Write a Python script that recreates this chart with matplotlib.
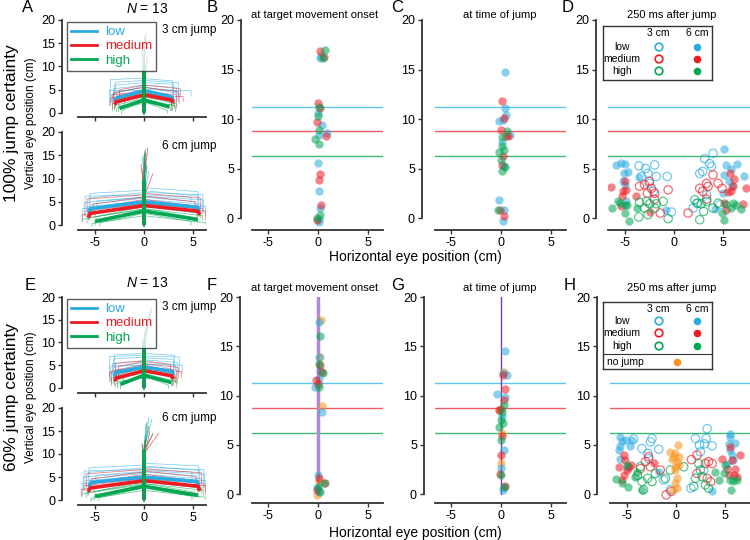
import matplotlib
matplotlib.use('Agg')
import matplotlib.pyplot as plt
from matplotlib.lines import Line2D

plt.rcParams['font.family'] = ['Liberation Sans', 'DejaVu Sans']
plt.rcParams['axes.unicode_minus'] = False
plt.rcParams['mathtext.fontset'] = 'custom'
plt.rcParams['mathtext.it'] = 'Liberation Sans:italic'
plt.rcParams['mathtext.rm'] = 'Liberation Sans'

NARROW = ['Liberation Sans Narrow', 'Liberation Sans', 'DejaVu Sans']
W, H = 750, 540
BLUE, RED, GREEN, ORANGE = '#29abe2', '#ed1c24', '#00a651', '#f7941d'
col = {'low': BLUE, 'medium': RED, 'high': GREEN}
line_col = {'low': '#5cc6ee', 'medium': '#ee5a5f', 'high': '#3dba6f'}
SPINE = '#333333'
levels = ['low', 'medium', 'high']
target_y = {'low': 11.25, 'medium': 8.75, 'high': 6.25}

# ---- trajectories: thin traces (x_end, y_at_0, y_at_end, y_after_drop) ----
a3_thin = {
    'low': [(-3.0, 6.5, 6.0, 3.0), (-3.4, 7.5, 7.2, 2.5), (-2.8, 5.5, 4.5, 2.0), (-3.6, 5.0, 5.0, 1.8),
            (-2.6, 4.5, 3.6, 1.5), (-3.1, 6.0, 5.2, 2.8), (-3.3, 5.8, 4.0, 2.2), (-2.9, 7.0, 6.6, 4.0),
            (3.0, 6.5, 6.2, 3.0), (3.5, 7.0, 6.5, 3.5), (3.2, 5.5, 4.8, 4.5), (4.8, 5.0, 4.8, 3.6),
            (2.8, 4.5, 3.5, 1.5), (3.3, 6.0, 5.5, 2.5), (3.6, 5.6, 4.2, 2.0), (2.9, 7.4, 6.9, 4.2)],
    'medium': [(-3.2, 4.5, 4.0, 1.0), (-2.7, 5.0, 3.8, 2.2), (-3.0, 3.5, 2.5, 0.8), (-2.5, 6.0, 5.0, 3.0),
               (-3.4, 4.0, 3.2, 1.6), (-2.9, 4.8, 2.8, 1.2), (-3.1, 5.5, 4.4, 2.6),
               (3.3, 4.5, 4.0, 1.5), (3.0, 5.0, 3.5, 2.0), (4.0, 4.0, 3.5, 2.5), (2.8, 3.5, 2.5, 0.5),
               (3.5, 5.5, 4.6, 2.4), (3.1, 4.2, 3.0, 1.0), (3.7, 6.0, 5.2, 3.6)],
    'high': [(-2.8, 3.0, 1.0, 0.3), (-3.2, 3.5, 2.0, 0.5), (-2.3, 2.5, 0.5, -0.2), (-2.0, 4.0, 2.5, 1.0),
             (-2.6, 2.0, 1.5, 0.2), (-3.0, 3.2, 1.6, 0.9), (-2.5, 4.4, 3.0, 2.0),
             (2.7, 3.0, 1.2, 0.5), (3.3, 3.5, 2.0, 1.0), (2.4, 2.5, 0.5, 0.0), (3.0, 4.0, 2.8, 1.5),
             (2.9, 2.0, 1.8, 0.6), (3.2, 3.0, 1.5, 0.3), (2.6, 4.4, 3.2, 2.2)],
}
a6_thin = {
    'low': [(-5.5, 7.5, 6.8, 3.0), (-6.0, 6.5, 6.2, 3.5), (-5.3, 5.8, 4.5, 2.0), (-5.8, 5.0, 4.0, 2.5),
            (-4.8, 6.0, 5.2, 3.8), (-6.3, 4.5, 3.5, 1.5), (-5.6, 7.0, 5.8, 4.0), (-6.1, 6.0, 4.8, 2.0),
            (5.5, 8.0, 7.2, 4.0), (6.0, 7.0, 6.5, 3.5), (5.3, 6.0, 5.0, 3.0), (5.8, 5.5, 4.5, 2.5),
            (4.8, 6.5, 6.0, 5.0), (6.3, 5.0, 4.0, 2.0), (5.6, 7.4, 6.2, 4.5), (6.1, 6.2, 5.4, 2.8)],
    'medium': [(-5.6, 5.5, 3.5, 1.0), (-6.0, 4.5, 3.0, 2.0), (-5.2, 6.0, 4.5, 2.5), (-6.3, 3.8, 2.2, 0.8),
               (-5.0, 5.0, 3.8, 1.5), (-5.8, 6.5, 5.6, 3.0), (-5.4, 4.2, 2.6, 1.8),
               (5.6, 5.5, 4.0, 1.8), (6.0, 4.5, 3.5, 2.5), (5.2, 6.2, 5.0, 3.2), (6.3, 4.0, 3.0, 1.2),
               (5.0, 5.0, 4.0, 3.0), (5.8, 6.8, 5.8, 3.8), (5.4, 4.2, 2.8, 1.4)],
    'high': [(-5.0, 3.0, 0.8, 0.0), (-5.8, 3.5, 1.5, 0.5), (-4.5, 2.5, 0.5, -0.2), (-6.3, 4.0, 1.2, 0.8),
             (-5.3, 2.0, 0.3, -0.3), (-5.6, 4.4, 2.4, 1.2), (-4.8, 3.4, 1.8, 1.0),
             (5.5, 3.0, 1.2, 0.5), (6.0, 3.5, 2.0, 1.0), (4.8, 2.5, 0.8, 0.0), (5.8, 4.0, 2.5, 1.5),
             (6.3, 2.0, 0.5, 0.2), (5.6, 4.6, 3.0, 2.0), (5.1, 3.6, 1.6, 0.6)],
}
e3_thin = {
    'low': [(-3.1, 6.8, 6.4, 3.2), (-3.5, 7.2, 6.9, 2.6), (-2.9, 5.6, 4.6, 2.2), (-3.4, 5.0, 4.8, 1.6),
            (-2.7, 4.6, 3.8, 1.4), (-3.2, 6.0, 5.4, 2.9), (-3.0, 7.6, 7.3, 4.4), (-2.8, 5.2, 4.0, 2.6),
            (3.0, 6.6, 6.3, 3.1), (3.6, 7.0, 6.8, 3.4), (3.2, 5.8, 5.0, 4.2), (3.9, 5.2, 5.0, 3.2),
            (2.9, 4.6, 3.7, 1.6), (3.4, 6.2, 5.6, 2.6), (3.1, 7.6, 7.2, 4.6), (2.8, 5.4, 4.2, 2.4)],
    'medium': [(-3.3, 4.6, 3.8, 1.0), (-2.8, 5.2, 3.8, 2.0), (-3.0, 3.6, 2.4, 0.6), (-2.6, 5.8, 4.8, 2.8),
               (-3.5, 4.2, 3.4, 1.4), (-3.1, 4.4, 2.6, 1.8), (-2.9, 6.0, 5.4, 3.4),
               (3.3, 4.6, 4.0, 1.4), (3.0, 5.1, 3.6, 1.9), (3.8, 4.2, 3.6, 2.2), (2.9, 3.6, 2.6, 0.6),
               (3.5, 5.4, 4.5, 2.2), (3.2, 4.0, 2.8, 1.2), (2.7, 6.0, 5.2, 3.4)],
    'high': [(-2.9, 3.0, 0.9, 0.2), (-3.3, 3.6, 2.2, 0.6), (-2.4, 2.6, 0.6, -0.2), (-2.1, 3.8, 2.4, 0.9),
             (-2.7, 2.2, 1.4, 0.1), (-3.1, 3.4, 1.6, 1.0), (-2.6, 4.4, 3.0, 2.0),
             (2.8, 3.0, 1.1, 0.4), (3.4, 3.6, 2.2, 1.0), (2.5, 2.6, 0.6, 0.0), (3.1, 3.8, 2.6, 1.4),
             (3.0, 2.2, 1.6, 0.5), (3.3, 3.2, 1.4, 0.2), (2.7, 4.4, 3.2, 2.0)],
}
e6_thin = {
    'low': [(-5.6, 7.6, 7.0, 3.2), (-6.1, 6.6, 6.3, 3.4), (-5.4, 5.8, 4.6, 2.2), (-5.9, 5.2, 4.2, 2.4),
            (-4.9, 6.2, 5.4, 3.6), (-6.3, 4.6, 3.6, 1.4), (-5.7, 7.0, 6.0, 4.2), (-6.2, 6.0, 5.0, 2.0),
            (5.6, 8.0, 7.4, 4.2), (6.1, 7.1, 6.6, 3.6), (5.4, 6.1, 5.2, 3.0), (5.9, 5.6, 4.6, 2.6),
            (4.9, 6.6, 6.1, 4.8), (6.3, 5.1, 4.2, 2.0), (5.7, 7.4, 6.4, 4.6), (6.2, 6.4, 5.6, 2.8)],
    'medium': [(-5.7, 5.6, 3.6, 1.0), (-6.1, 4.6, 3.1, 2.0), (-5.3, 6.1, 4.6, 2.4), (-6.4, 3.8, 2.3, 0.8),
               (-5.1, 5.1, 3.9, 1.4), (-5.9, 6.6, 5.7, 3.0), (-5.5, 4.2, 2.7, 1.8),
               (5.7, 5.6, 4.1, 1.8), (6.1, 4.6, 3.6, 2.4), (5.3, 6.3, 5.1, 3.2), (6.3, 4.1, 3.1, 1.2),
               (5.1, 5.1, 4.1, 3.0), (5.9, 6.8, 5.9, 3.8), (5.5, 4.3, 2.9, 1.4)],
    'high': [(-5.1, 3.0, 0.8, 0.0), (-5.9, 3.6, 1.6, 0.5), (-4.6, 2.6, 0.5, -0.2), (-6.3, 4.0, 1.3, 0.8),
             (-5.4, 2.1, 0.3, -0.3), (-5.7, 4.4, 2.5, 1.2), (-4.9, 3.4, 1.8, 1.0),
             (5.6, 3.0, 1.3, 0.5), (6.1, 3.6, 2.1, 1.0), (4.9, 2.6, 0.8, 0.0), (5.9, 4.0, 2.6, 1.5),
             (6.3, 2.1, 0.6, 0.2), (5.7, 4.6, 3.1, 2.0), (5.2, 3.6, 1.7, 0.6)],
}

# vertical traces (y_bend, x_top, y_top)
a3_vert = {'low': [(9, 0.1, 16.5), (8, -0.1, 15.5), (6, 0.3, 12.0), (10, 0.2, 16.0), (7, -0.2, 13.5)],
           'medium': [(10, 0.2, 17.2), (8, -0.2, 14.0), (6, 0.4, 11.5), (9, 0.1, 16.2), (7, 0.3, 12.5)],
           'high': [(10, 0.0, 16.8), (9, 0.1, 15.0), (7, -0.1, 12.5), (11, 0.2, 17.0), (8, -0.2, 14.0)]}
a6_vert = {'low': [(9, 0.2, 16.4), (8, -0.1, 15.0), (6, 0.5, 11.5), (10, 0.1, 15.8), (7, 0.3, 13.0)],
           'medium': [(10, 0.4, 16.6), (8, -0.3, 13.0), (6, 0.9, 11.0), (9, 0.2, 15.5), (7, -0.2, 12.0)],
           'high': [(10, 0.1, 16.0), (9, -0.1, 14.5), (7, 0.3, 12.5), (11, 0.0, 15.5), (8, 0.2, 13.5)]}
e3_vert = {'low': [(9, 0.8, 17.5), (8, 0.6, 16.5), (6, 0.2, 12.0), (10, 0.5, 17.0), (7, 0.1, 14.0)],
           'medium': [(9, 0.7, 17.0), (8, 0.3, 14.5), (6, -0.1, 11.0), (10, 0.6, 16.5), (7, 0.2, 13.0)],
           'high': [(10, 0.8, 17.6), (9, 0.5, 15.5), (7, 0.1, 12.0), (11, 0.7, 16.8), (8, 0.3, 14.0)]}
e6_vert = {'low': [(10, 0.5, 18.0), (9, 0.2, 16.5), (7, -0.2, 12.5), (11, 0.8, 17.5), (8, 0.1, 14.0)],
           'medium': [(10, 1.5, 14.5), (9, 0.6, 15.0), (7, -0.1, 12.0), (11, 0.9, 14.2), (8, 0.2, 13.0)],
           'high': [(10, 0.9, 14.5), (9, 0.3, 17.0), (7, 0.0, 13.0), (11, 0.5, 16.0), (8, -0.2, 12.0)]}

# mean traces
a3_mean = {'low': ([-3.0, -2.8, 0, 2.8, 3.0], [2.3, 3.2, 4.8, 3.5, 2.6]),
           'medium': ([-3.0, -2.8, 0, 2.8, 3.0], [1.8, 2.4, 3.9, 2.8, 2.2]),
           'high': ([-2.5, 0, 2.6], [1.0, 2.8, 1.3])}
a6_mean = {'low': ([-5.6, -5.5, 0, 5.5, 5.6], [2.5, 3.5, 5.0, 3.8, 3.0]),
           'medium': ([-5.7, -5.5, 0, 5.5, 5.7], [1.6, 2.5, 4.2, 3.0, 2.2]),
           'high': ([-5.0, 0, 5.5], [0.8, 3.0, 1.2])}
e3_mean = {'low': ([-3.0, -2.9, 0, 2.9, 3.0], [2.5, 3.4, 4.6, 3.6, 2.8]),
           'medium': ([-3.0, -2.8, 0, 2.8, 3.0], [1.5, 2.2, 3.8, 2.7, 2.0]),
           'high': ([-2.4, 0, 2.8], [0.8, 2.8, 1.2])}
e6_mean = {'low': ([-5.6, -5.4, 0, 5.4, 5.6], [2.8, 3.8, 5.0, 4.0, 3.0]),
           'medium': ([-5.7, -5.5, 0, 5.5, 5.7], [1.8, 2.6, 4.2, 3.0, 2.0]),
           'high': ([-5.0, 0, 5.5], [0.8, 3.0, 1.0])}
a3_vtop = {'low': 9.0, 'medium': 8.6, 'high': 10.0}
a6_vtop = {'low': 8.0, 'medium': 8.6, 'high': 9.5}
e3_vtop = {'low': 9.0, 'medium': 8.5, 'high': 10.0}
e6_vtop = {'low': 9.0, 'medium': 8.0, 'high': 10.5}

# ---- end-point scatter data ----
b_pts = {
    'low': ([0.33, 0.23, 0.0, 0.4, 0.9, 0.07, 0.0, 0.07, 0.17, 0.07, 0.07],
            [16.4, 16.2, 10.6, 9.4, 8.57, 8.4, 5.55, 2.76, 1.0, -0.44, -0.1]),
    'medium': ([0.23, 0.57, 0.0, 0.23, -0.1, 0.83, 0.23, 0.07, 0.33, -0.1],
               [16.9, 16.3, 11.66, 11.1, 9.7, 8.3, 4.47, 3.87, 1.35, -0.17]),
    'high': ([0.73, 0.07, 0.0, 0.07, -0.27, 0.07, 0.17, -0.1, 0.5],
             [17.0, 11.2, 10.3, 8.84, 7.97, 7.46, 0.34, 0.0, 16.2]),
}
c_pts = {
    'low': ([0.4, 0.4, 0.47, -0.2, 0.07, 0.9, -0.2, 0.3, 0.23, 0.23, 0.3],
            [14.7, 11.1, 10.4, 9.8, 7.7, 8.4, 1.78, 0.84, -0.27, 9.9, 5.27]),
    'medium': ([0.07, 0.33, -0.03, 0.47, 0.73, 0.23, 0.13, 0.3, -0.1],
               [11.86, 10.1, 8.84, 8.24, 8.3, 6.3, 5.4, 0.23, 0.77]),
    'high': ([0.57, 0.07, -0.2, -0.03, 0.4, 0.07, -0.27, 0.3, 0.13],
             [8.8, 7.3, 6.7, 5.9, 5.2, 4.7, 0.77, 6.9, 8.2]),
}
d_open = {
    'low': ([-3.55, -2.9, -1.96, -2.64, -3.3, -1.8, -0.7, -2.5, -2.1, -0.27,
             3.95, 3.1, 3.6, 2.6, 2.9, 3.8, 3.3, 4.63, 1.93, 2.3],
            [5.27, 5.0, 5.37, 4.53, 4.2, 4.2, 4.2, 3.5, 2.7, 0.6,
             6.54, 6.0, 5.5, 4.5, 4.7, 5.2, 2.35, 1.34, 1.0, 1.5]),
    'medium': ([-3.5, -3.0, -2.5, -2.3, -1.96, -2.7, -1.4, -0.6, -2.0,
                1.42, 2.6, 2.9, 3.45, 3.3, 3.95, 4.46, 4.86, 3.3],
               [3.2, 3.36, 3.7, 3.0, 2.5, 2.5, 0.5, 2.85, 1.9,
                0.5, 3.0, 2.7, 3.2, 3.5, 4.36, 3.5, 3.0, 1.9]),
    'high': ([-3.5, -2.8, -2.47, -1.8, -1.1, -1.96, -3.58, -2.64, -0.6, -3.0,
              2.1, 2.4, 2.75, 3.3, 3.0, 2.6, 3.95, 4.46],
             [1.58, 1.68, 1.44, 1.44, 1.68, 1.0, 0.1, 0.34, -0.07, 1.0,
              1.85, 1.5, 1.44, 1.68, 0.67, -0.17, 1.0, 1.5]),
}
d_fill = {
    'low': ([-5.84, -5.4, -4.93, -4.66, -5.07, -5.17, -5.0, -4.83, -3.58, -0.78,
             5.07, 5.3, 5.8, 6.4, 7.1, 5.1, 5.6, 4.97, 4.2, 5.9],
            [5.37, 5.6, 5.47, 4.6, 4.53, 3.7, 3.36, 1.68, 4.13, 0.77,
             6.98, 5.4, 5.0, 5.47, 4.2, 4.3, 3.7, 2.5, 0.94, 3.2]),
    'medium': ([-6.35, -5.0, -5.17, -4.9, -5.3, -3.9, -2.4, -5.4,
                5.64, 5.5, 5.8, 5.98, 6.1, 5.3, 7.0, 7.26, 5.1],
               [3.1, 3.7, 2.7, 2.8, 2.2, 2.2, 0.6, 1.17,
                4.5, 2.6, 2.7, 3.2, 3.9, 0.84, 1.4, 3.0, 1.5]),
    'high': ([-6.25, -5.7, -5.0, -4.73, -5.0, -4.6, -3.75, -5.5,
              4.9, 5.1, 5.3, 6.0, 6.8, 5.8, 6.3],
             [1.0, 1.75, 1.34, 1.28, 0.5, -0.34, 1.04, 1.5,
              0.5, -0.17, 1.44, 1.5, 0.94, 1.0, 1.34]),
}
f_pts = {
    'nojump': ([0.33, 0.17, 0.4, 0.07, -0.1], [17.7, 13.9, 8.9, 1.38, -0.13]),
    'low': ([0.1, 0.07, 0.17, -0.27, 0.07, 0.4, 0.0, 0.07, -0.1],
            [17.5, 13.9, 12.5, 10.86, 11.7, 8.3, 1.95, 0.27, 0.6]),
    'medium': ([0.23, 0.4, -0.17, 0.0, 0.07, 0.67, -0.1],
               [13.1, 12.4, 11.6, 11.2, 1.6, 1.1, 0.44]),
    'high': ([0.17, 0.07, 0.5, 0.07, 0.57, 0.0, 0.23],
             [16.0, 13.2, 12.3, 10.9, 1.1, 0.77, 0.17]),
}
g_pts = {
    'nojump': ([0.3, -0.17, 0.13, -0.03], [12.35, 8.56, 6.2, 3.2]),
    'low': ([0.4, 0.17, 0.57, -0.37, 0.4, 0.13, 0.3, -0.03, 0.3, 0.17],
            [14.55, 12.3, 12.1, 10.2, 9.9, 7.9, 4.46, 2.7, 0.7, 0.44]),
    'medium': ([0.23, 0.4, 0.3, -0.03, -0.2, 0.13, -0.03, -0.1, 0.4],
               [12.1, 10.7, 9.5, 8.66, 8.5, 5.9, 3.96, 2.0, 0.84]),
    'high': ([0.3, -0.03, -0.2, 0.23, -0.03, 0.3, 0.13, 0.0],
             [9.0, 7.5, 6.8, 7.2, 5.5, 0.7, 8.3, 1.9]),
}
h_open = {
    'low': ([-4.3, -3.46, -2.6, -2.44, -2.88, -1.76, -2.78, -1.25, -0.58,
             1.97, 2.37, 3.05, 3.15, 2.88, 3.66, 2.47, 1.5, 2.8],
            [5.6, 4.63, 5.3, 5.64, 4.13, 4.56, 3.6, 1.44, 0.44,
             5.64, 4.96, 5.64, 6.64, 5.1, 4.9, 4.3, 0.6, 2.45]),
    'medium': ([-3.1, -2.78, -2.6, -1.6, -1.0, -0.5, -3.6,
                1.56, 2.13, 2.98, 3.3, 3.15, 3.5, 3.66, 2.13],
               [3.3, 3.8, 2.78, 2.45, -0.07, 0.27, 2.6,
                3.5, 3.96, 3.1, 3.3, 1.6, 1.27, 3.1, 2.1]),
    'high': ([-3.9, -3.46, -2.88, -2.1, -2.44, -1.08, -0.58, -3.63, -3.3,
              0.78, 1.97, 2.3, 2.47, 2.98, 3.3, 2.64, 1.8],
             [1.9, 1.27, 1.6, 2.1, 1.27, 1.6, 2.45, 2.8, 0.44,
              2.78, 1.6, 3.1, 2.45, 0.94, 0.6, 1.78, 0.77]),
}
h_fill = {
    'low': ([-5.66, -5.5, -5.1, -4.68, -5.7, -5.83, -5.66, -4.98, -1.7, -4.5,
             5.5, 5.45, 6.0, 5.36, 5.5, 5.7, 5.2, 5.76, 3.6],
            [5.8, 5.4, 5.5, 4.9, 4.9, 4.5, 3.6, 2.8, 2.2, 5.5,
             6.1, 5.8, 5.2, 5.1, 4.46, 3.96, 3.1, 3.46, 0.27]),
    'medium': ([-5.83, -5.3, -5.15, -4.98, -4.8, -5.5, -5.32, -2.27, -4.6,
                4.68, 5.2, 5.5, 5.7, 6.0, 5.85, 5.36, 6.44, 6.2],
               [2.8, 3.96, 3.46, 2.45, 2.8, 1.44, 1.95, 3.2, 2.95,
                3.6, 2.6, 4.8, 3.46, 2.6, 1.95, 1.95, 3.96, 1.78]),
    'high': ([-6.07, -5.5, -4.88, -3.97, -4.14, -3.46, -4.98,
              4.0, 4.85, 5.5, 5.76, 5.0, 5.6, 4.34, 6.2],
             [1.5, 1.1, 0.77, 2.28, 1.78, 0.44, 2.95,
              2.28, 2.1, 1.44, 1.38, 2.95, 0.44, 1.44, 1.44]),
}
h_nojump = ([0.17, -0.58, -0.24, 0.1, -0.07, -0.07, 0.1, -0.07, 0.1, -0.3, 0.27, 0.34, -0.4, -0.07],
            [4.96, 4.3, 3.8, 3.3, 2.78, 2.45, 1.6, 1.1, 0.6, 0.44, 3.8, 2.95, 3.6, 4.13])

fig = plt.figure(figsize=(7.5, 5.4), dpi=100)


def add_ax(l, t, r, b):
    return fig.add_axes([l / W, 1 - b / H, (r - l) / W, (b - t) / H])


def ftext(x, y, s, **kw):
    fig.text(x / W, 1 - y / H, s, **kw)


def style(ax, offset, xlab=True):
    for s in ['top', 'right']:
        ax.spines[s].set_visible(False)
    for s in ['left', 'bottom']:
        ax.spines[s].set_color(SPINE)
        ax.spines[s].set_linewidth(1.3)
    ax.spines['left'].set_position(('outward', offset))
    ax.spines['left'].set_bounds(0, 20)
    ax.set_yticks([0, 5, 10, 15, 20])
    ax.set_xticks([-5, 0, 5])
    ax.tick_params(colors=SPINE, labelcolor='black', labelsize=9, length=3, width=1, pad=2)
    if not xlab:
        ax.set_xticklabels([])
    ax.patch.set_visible(False)


def draw_traj(ax, thin, vert, mean, vtop):
    for lv in levels:
        for xe, y0, y1, y2 in thin[lv]:
            ax.plot([0, xe, xe], [y0, y1, y2], color=col[lv], lw=0.55, alpha=0.6)
        for yb, xt, yt in vert[lv]:
            ax.plot([0, 0, xt], [-0.2, yb, yt], color=col[lv], lw=0.55, alpha=0.7)
    for lv in levels:
        mx, my = mean[lv]
        ax.plot(mx, my, color=col[lv], lw=2.6, solid_capstyle='butt')
        ax.plot([0, 0], [0.5, vtop[lv]], color=col[lv], lw=2.6)


traj = [
    (add_ax(78.3, 20, 205.7, 116.7), (-0.8, 20), a3_thin, a3_vert, a3_mean, a3_vtop, False),
    (add_ax(78.3, 132, 205.7, 229.7), (-1.0, 20), a6_thin, a6_vert, a6_mean, a6_vtop, True),
    (add_ax(78.3, 297, 205.7, 393), (-1.1, 20), e3_thin, e3_vert, e3_mean, e3_vtop, False),
    (add_ax(78.3, 408, 205.7, 504.6), (-1.0, 20), e6_thin, e6_vert, e6_mean, e6_vtop, True),
]
for ax, yl, thin, vert, mean, vtop, xl in traj:
    draw_traj(ax, thin, vert, mean, vtop)
    ax.set_xlim(-6.7, 6.3)
    ax.set_ylim(*yl)
    style(ax, 11.5, xl)

for ax in [traj[0][0], traj[2][0]]:
    handles = [Line2D([], [], color=col[lv], lw=2) for lv in levels]
    bb = ax.get_position()
    leg = ax.legend(handles, levels, loc='upper left',
                    bbox_to_anchor=(67 / W, bb.y1 - 2 / H), bbox_transform=fig.transFigure,
                    fancybox=False, edgecolor=SPINE, fontsize=9.5, labelcolor='linecolor',
                    handlelength=2.0, borderpad=0.3, labelspacing=0.15, handletextpad=0.6,
                    borderaxespad=0)
    leg.get_frame().set_linewidth(1.0)


def scatter_ax(l, t, r, b, xlim, ylim, offset):
    ax = add_ax(l, t, r, b)
    ax.set_xlim(*xlim)
    ax.set_ylim(*ylim)
    style(ax, offset)
    for lv in levels:
        ax.axhline(target_y[lv], color=line_col[lv], lw=1.0, zorder=1)
    return ax


def dots(ax, pts, color, filled=True, s=36):
    if filled:
        ax.scatter(pts[0], pts[1], s=s, color=color, alpha=0.55, linewidths=0, zorder=3)
    else:
        ax.scatter(pts[0], pts[1], s=s, facecolors='none', edgecolors=color, alpha=0.65,
                   linewidths=0.9, zorder=3)


axB = scatter_ax(252, 20, 383, 229.9, (-6.6, 6.5), (-1.2, 20), 8)
axC = scatter_ax(435, 20, 566, 229.9, (-6.6, 6.5), (-1.2, 20), 9.4)
axD = scatter_ax(608, 20, 750, 229.9, (-6.7, 7.7), (-1.2, 20), 8.6)
axF = scatter_ax(252, 297, 383, 503, (-6.6, 6.5), (-0.9, 20), 8.6)
axG = scatter_ax(435, 297, 566, 503, (-6.6, 6.5), (-0.9, 20), 8)
axH = scatter_ax(610, 297, 750, 503, (-6.7, 7.5), (-0.9, 20), 9.4)

axF.plot([0, 0], [0, 20], color='#b08ad2', lw=2.5, zorder=2)
axG.plot([0, 0], [0, 20], color='#7d3c98', lw=1.0, zorder=2)

for lv in levels:
    dots(axB, b_pts[lv], col[lv])
    dots(axC, c_pts[lv], col[lv])
    dots(axD, d_open[lv], col[lv], filled=False)
    dots(axD, d_fill[lv], col[lv])
    dots(axH, h_open[lv], col[lv], filled=False)
    dots(axH, h_fill[lv], col[lv])
dots(axF, f_pts['nojump'], ORANGE)
dots(axG, g_pts['nojump'], ORANGE)
for lv in levels:
    dots(axF, f_pts[lv], col[lv])
    dots(axG, g_pts[lv], col[lv])
dots(axH, h_nojump, ORANGE)


def legend_box(l, t, w, h, nojump):
    lax = add_ax(l, t, l + w, t + h)
    lax.set_xlim(0, w)
    lax.set_ylim(h, 0)
    lax.set_xticks([])
    lax.set_yticks([])
    for s in lax.spines.values():
        s.set_color(SPINE)
        s.set_linewidth(1.0)
    kw = dict(fontsize=7.5, family=NARROW, va='center')
    lax.text(55, 7, '3 cm', ha='center', **kw)
    lax.text(94, 7, '6 cm', ha='center', **kw)
    rows = [19, 31, 44] if nojump else [21, 33, 45]
    for lv, yy in zip(levels, rows):
        lax.text(19, yy, lv, ha='center', **kw)
        lax.scatter([56], [yy], s=30, facecolors='none', edgecolors=col[lv], linewidths=1.2)
        lax.scatter([94], [yy], s=30, color=col[lv], linewidths=0)
    if nojump:
        lax.axhline(52, color=SPINE, lw=0.8)
        lax.text(4, 60, 'no jump', ha='left', **kw)
        lax.scatter([74], [60], s=30, color=ORANGE, linewidths=0)


legend_box(603, 26, 109, 54, False)
legend_box(603, 302, 109, 67, True)

# texts
tkw = dict(fontsize=8, family=NARROW, ha='center', va='center')
for x, s in [(315, 'at target movement onset'), (500, 'at time of jump'), (672, '250 ms after jump')]:
    ftext(x, 15, s, **tkw)
    ftext(x, 288, s, **tkw)
for x, y, s in [(28, 8, 'A'), (212, 8, 'B'), (397, 8, 'C'), (568, 8, 'D'),
                (30, 285, 'E'), (212, 285, 'F'), (398, 285, 'G'), (570, 285, 'H')]:
    ftext(x, y, s, fontsize=12, ha='center', va='center')
for y in [9, 283]:
    ftext(147, y, r'$\mathit{N}$ = 13', fontsize=10, ha='center', va='center')
for x, y, s in [(162, 30, '3 cm jump'), (162, 146, '6 cm jump'), (162, 307, '3 cm jump'), (162, 418, '6 cm jump')]:
    ftext(x, y, s, fontsize=8.5, ha='left', va='center')
for y in [257, 533]:
    ftext(415, y, 'Horizontal eye position (cm)', fontsize=10, ha='center', va='center')
for y, s in [(123, '100% jump certainty'), (397, '60% jump certainty')]:
    ftext(12, y, s, fontsize=12.5, rotation=90, ha='center', va='center')
    ftext(31, y, 'Vertical eye position (cm)', fontsize=8.5, rotation=90, ha='center', va='center')

fig.savefig('out.png', dpi=100)
